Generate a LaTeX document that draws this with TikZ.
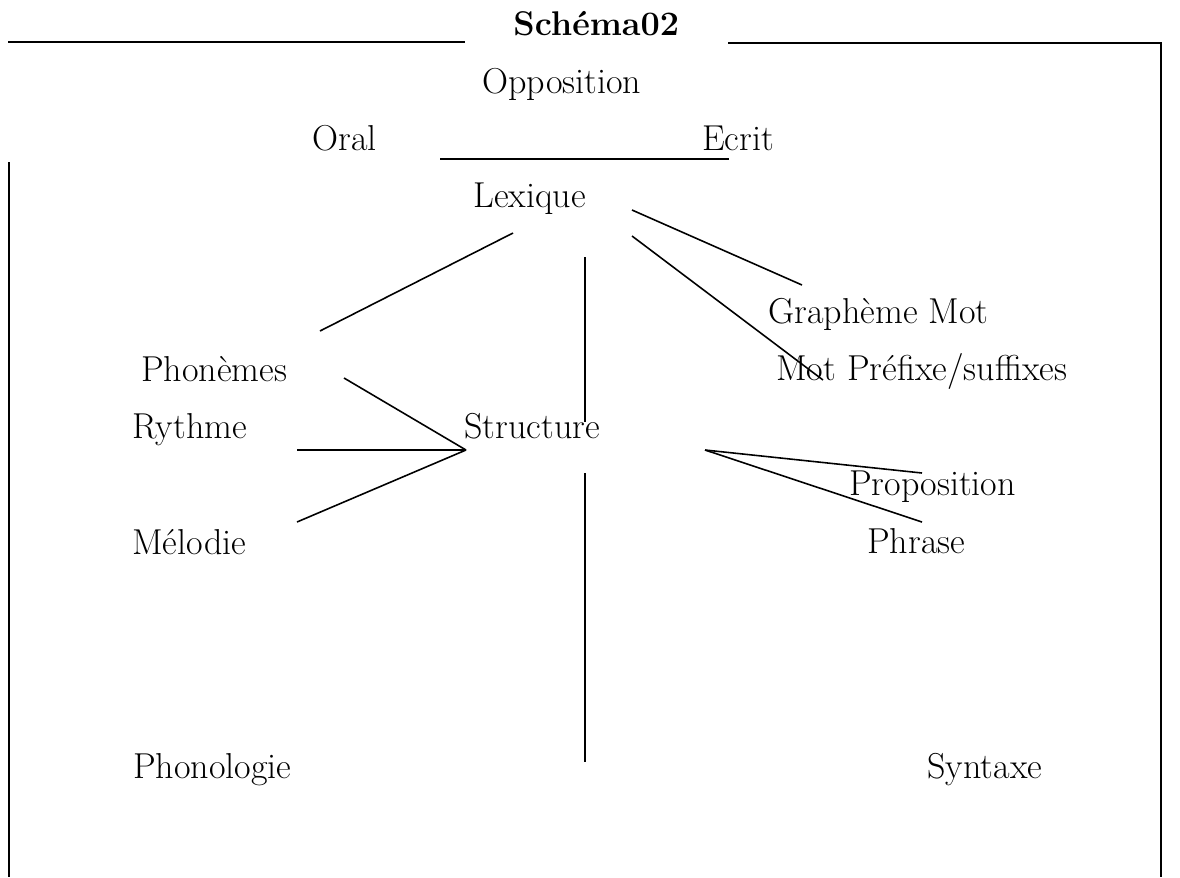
\documentclass[tikz,border=0pt]{standalone}
\usepackage{fontspec}

\begin{document}
\begin{tikzpicture}[x=0.02cm,y=-0.02cm,
  mot/.style={anchor=base west,inner sep=0pt,font=\fontsize{20.5}{24}\selectfont},
  titre/.style={mot,font=\fontsize{19.5}{23}\selectfont\bfseries},
  cadre/.style={line width=1.1pt},
  lien/.style={line width=0.9pt}]
  \useasboundingbox (0,0) rectangle (1180,877);
  % 外框的各个端点
  \coordinate (A) at (8,42);
  \coordinate (B) at (465,42);
  \coordinate (C) at (728,43);
  \coordinate (D) at (1161,43);
  \coordinate (E) at (1161,877);
  \coordinate (F) at (9,162);
  \coordinate (G) at (9,877);
  % 标题与各个词语
  \node[titre] (schema) at (513,35) {Schéma02};
  \node[mot] (opposition) at (482,93) {Opposition};
  \node[mot] (oral) at (312,150) {Oral};
  \node[mot] (ecrit) at (702,150) {Ecrit};
  \node[mot] (lexique) at (473,207) {Lexique};
  \node[mot] (grapheme) at (768,323) {Graphème Mot};
  \node[mot] (prefixe) at (776,380) {Mot Préfixe/suffixes};
  \node[mot] (phonemes) at (141,381) {Phonèmes};
  \node[mot] (rythme) at (132,438) {Rythme};
  \node[mot] (structure) at (464,438) {Structure};
  \node[mot] (proposition) at (849,495) {Proposition};
  \node[mot] (melodie) at (132,554) {Mélodie};
  \node[mot] (phrase) at (867,553) {Phrase};
  \node[mot] (phonologie) at (133,778) {Phonologie};
  \node[mot] (syntaxe) at (927,778) {Syntaxe};
  % 各条线段的端点
  \coordinate (H1) at (440,159);
  \coordinate (H2) at (729,159);
  \coordinate (L1) at (513,233);
  \coordinate (L2) at (320,331);
  \coordinate (L3) at (632,210);
  \coordinate (L4) at (802,285);
  \coordinate (L5) at (632,236);
  \coordinate (L6) at (823,380);
  \coordinate (V1) at (585,257);
  \coordinate (V2) at (585,422);
  \coordinate (V3) at (585,473);
  \coordinate (V4) at (585,762);
  \coordinate (S) at (466,450);
  \coordinate (P1) at (344,378);
  \coordinate (R1) at (297,450);
  \coordinate (M1) at (297,522);
  \coordinate (T) at (705,450);
  \coordinate (T1) at (922,473);
  \coordinate (T2) at (922,522);
  % 绘制外框
  \draw[cadre] (A) -- (B);
  \draw[cadre] (C) -- (D) -- (E);
  \draw[cadre] (F) -- (G);
  % 绘制指定线段
  \draw[lien] (H1) -- (H2);
  \draw[lien] (L1) -- (L2);
  \draw[lien] (L3) -- (L4);
  \draw[lien] (L5) -- (L6);
  \draw[lien] (V1) -- (V2);
  \draw[lien] (V3) -- (V4);
  \draw[lien] (P1) -- (S);
  \draw[lien] (R1) -- (S);
  \draw[lien] (M1) -- (S);
  \draw[lien] (T) -- (T1);
  \draw[lien] (T) -- (T2);
\end{tikzpicture}
\end{document}
